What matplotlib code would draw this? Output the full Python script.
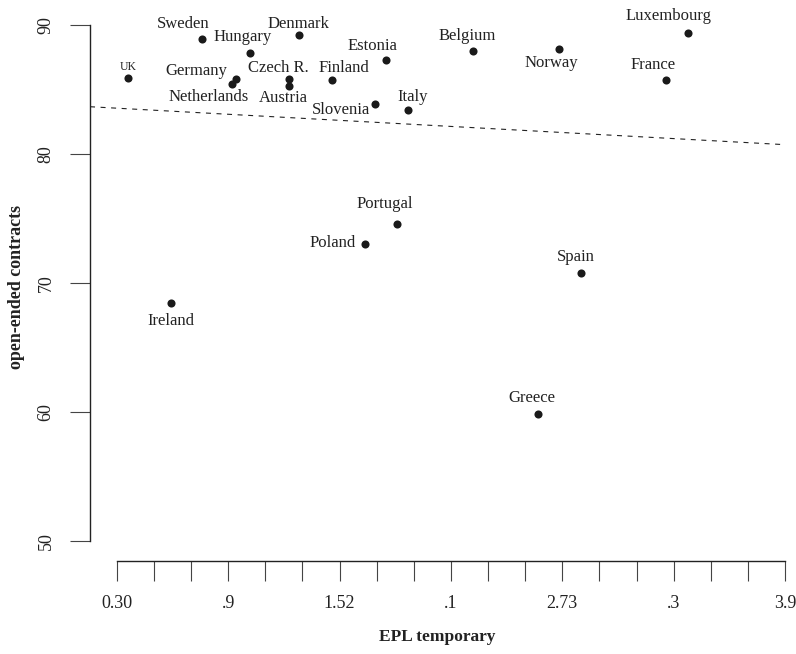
import numpy as np
import matplotlib
matplotlib.use("Agg")
import matplotlib.pyplot as plt

plt.rcParams["font.family"] = ["Liberation Serif", "DejaVu Serif"]

countries = ["UK", "Sweden", "Hungary", "Denmark", "Germany", "Netherlands",
             "Czech R.", "Austria", "Finland", "Estonia", "Slovenia", "Italy",
             "Belgium", "Norway", "Luxembourg", "France", "Portugal", "Poland",
             "Spain", "Ireland", "Greece"]
epl_temp = [0.36, 0.76, 1.02, 1.28, 0.94, 0.92,
            1.23, 1.23, 1.46, 1.75, 1.69, 1.87,
            2.22, 2.68, 3.38, 3.26, 1.81, 1.64,
            2.80, 0.59, 2.57]
open_ended = [85.9, 88.9, 87.8, 89.2, 85.8, 85.4,
              85.8, 85.3, 85.7, 87.3, 83.9, 83.4,
              88.0, 88.1, 89.4, 85.7, 74.6, 73.0,
              70.8, 68.4, 59.8]

# fitted line: open_ended = a + b * epl_temp
fit_a, fit_b = 83.78, -0.786

xtick_vals = np.arange(0.3, 3.91, 0.2)
xtick_text = ["0.30", ".9", "1.52", ".1", "2.73", ".3", "3.9"]
ytick_vals = [50, 60, 70, 80, 90]

# label placement: offset in pixels from the dot, horizontal alignment
label_pos = {
    "UK": (0, 11, "center"), "Sweden": (-19, 15, "center"),
    "Hungary": (-8, 16, "center"), "Denmark": (0, 11, "center"),
    "Germany": (-8, 8, "right"), "Netherlands": (-23, -13, "center"),
    "Czech R.": (-11, 11, "center"), "Austria": (-6, -12, "center"),
    "Finland": (12, 12, "center"), "Estonia": (-13, 14, "center"),
    "Slovenia": (-5, -6, "right"), "Italy": (4, 13, "center"),
    "Belgium": (-6, 15, "center"), "Norway": (-7, -14, "center"),
    "Luxembourg": (-20, 17, "center"), "France": (-13, 15, "center"),
    "Portugal": (-12, 20, "center"), "Poland": (-10, 1, "right"),
    "Spain": (-5, 16, "center"), "Ireland": (0, -18, "center"),
    "Greece": (-6, 16, "center"),
}

fig = plt.figure(figsize=(7.96, 6.54), dpi=100)
ax = fig.add_axes([0.1131, 0.1422, 0.8731, 0.8394])
ax.set_xlim(0.156, 3.9)
ax.set_ylim(48.43, 91.0)

ax.scatter(epl_temp, open_ended, s=34, color="#1a1a1a", zorder=3, linewidths=0)
ax.axline((0, fit_a), slope=fit_b, color="#222222", lw=0.8,
          dashes=(4.5, 5), zorder=2)

for name, x, y in zip(countries, epl_temp, open_ended):
    dx, dy, ha = label_pos[name]
    ax.annotate(name, (x, y), xytext=(dx, dy), textcoords="offset pixels",
                ha=ha, va="center", color="#222222",
                fontsize=8.5 if name == "UK" else 12)

for side in ["top", "right"]:
    ax.spines[side].set_visible(False)
ax.spines["left"].set_bounds(50, 90)
ax.spines["bottom"].set_bounds(0.3, 3.9)
for side in ["left", "bottom"]:
    ax.spines[side].set_color("#222222")
    ax.spines[side].set_linewidth(1.0)

ax.set_xticks(xtick_vals)
ax.set_xticklabels([xtick_text[i // 3] if i % 3 == 0 else ""
                    for i in range(len(xtick_vals))])
ax.set_yticks(ytick_vals)
ax.set_yticklabels([str(v) for v in ytick_vals], rotation=90, va="center")
ax.tick_params(axis="x", length=14.4, width=0.8, color="#444444",
               pad=10, labelsize=13, labelcolor="#222222")
ax.tick_params(axis="y", length=14.4, width=0.8, color="#444444",
               pad=11, labelsize=13, labelcolor="#222222")

ax.set_xlabel("EPL temporary", fontsize=12.5, fontweight="bold",
              color="#222222", labelpad=12)
ax.set_ylabel("open-ended contracts", fontsize=13, fontweight="bold",
              color="#222222", labelpad=9)

fig.savefig("out.png", dpi=100)
